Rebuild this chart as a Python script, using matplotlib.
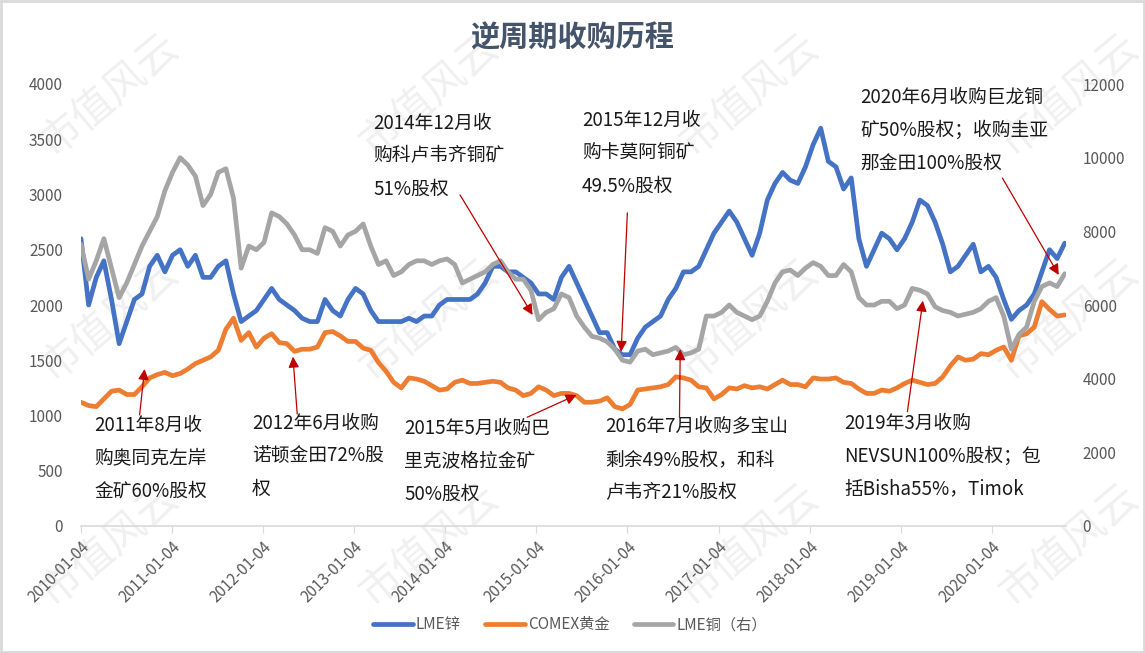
import pandas as pd
import matplotlib
matplotlib.use('Agg')
import matplotlib.pyplot as plt
import matplotlib.dates as mdates
from matplotlib.patches import Rectangle

plt.rcParams['font.family'] = ['Noto Sans CJK SC', 'DejaVu Sans']

# roughly one point a month, 2010-01-04 .. 2020-10-23
dates = pd.date_range('2010-01-04', '2020-10-23', periods=130)

zinc = [2600, 2000, 2250, 2400, 2050, 1650, 1850, 2050, 2100, 2350,
        2450, 2300, 2450, 2500, 2350, 2450, 2250, 2250, 2350, 2400,
        2100, 1850, 1900, 1950, 2050, 2150, 2050, 2000, 1950, 1880,
        1850, 1850, 2050, 1950, 1900, 2050, 2150, 2100, 1950, 1850,
        1850, 1850, 1850, 1880, 1850, 1900, 1900, 2000, 2050, 2050,
        2050, 2050, 2100, 2200, 2350, 2350, 2300, 2300, 2250, 2200,
        2100, 2100, 2050, 2250, 2350, 2200, 2050, 1900, 1750, 1750,
        1600, 1550, 1550, 1700, 1800, 1850, 1900, 2050, 2150, 2300,
        2300, 2350, 2500, 2650, 2750, 2850, 2750, 2600, 2450, 2650,
        2950, 3100, 3200, 3130, 3100, 3250, 3450, 3600, 3300, 3250,
        3050, 3150, 2600, 2350, 2500, 2650, 2600, 2500, 2600, 2750,
        2950, 2900, 2750, 2550, 2300, 2350, 2450, 2550, 2300, 2350,
        2250, 2050, 1870, 1950, 2000, 2100, 2300, 2500, 2420, 2560]

gold = [1120, 1090, 1080, 1150, 1220, 1230, 1190, 1190, 1260, 1340,
        1370, 1390, 1360, 1380, 1420, 1470, 1500, 1530, 1590, 1780,
        1880, 1680, 1750, 1620, 1700, 1740, 1660, 1650, 1580, 1600,
        1600, 1620, 1750, 1760, 1720, 1670, 1670, 1610, 1590, 1480,
        1400, 1300, 1250, 1340, 1330, 1310, 1270, 1230, 1240, 1300,
        1320, 1290, 1290, 1300, 1310, 1300, 1250, 1230, 1180, 1200,
        1260, 1230, 1180, 1200, 1200, 1180, 1120, 1120, 1130, 1160,
        1080, 1060, 1100, 1230, 1240, 1250, 1260, 1280, 1350, 1340,
        1320, 1260, 1250, 1150, 1190, 1250, 1240, 1270, 1250, 1260,
        1240, 1280, 1320, 1280, 1280, 1260, 1340, 1330, 1330, 1340,
        1300, 1290, 1240, 1200, 1200, 1230, 1220, 1250, 1290, 1320,
        1300, 1280, 1290, 1350, 1450, 1530, 1500, 1510, 1560, 1550,
        1590, 1620, 1500, 1720, 1740, 1800, 2030, 1960, 1900, 1910]

copper = [7650, 6700, 7200, 7800, 7000, 6200, 6600, 7100, 7600, 8000,
          8400, 9100, 9600, 10000, 9800, 9500, 8700, 9000, 9600, 9700,
          8900, 7000, 7600, 7500, 7700, 8500, 8400, 8200, 7900, 7500,
          7500, 7400, 8100, 8000, 7600, 7900, 8000, 8200, 7600, 7100,
          7200, 6800, 6900, 7100, 7200, 7200, 7100, 7200, 7250, 7100,
          6600, 6700, 6800, 6900, 7100, 7200, 6900, 6700, 6700, 6400,
          5600, 5800, 5900, 6300, 6200, 5700, 5400, 5150, 5100, 5000,
          4800, 4500, 4450, 4750, 4800, 4650, 4700, 4750, 4850, 4650,
          4700, 4800, 5700, 5700, 5800, 6000, 5800, 5700, 5600, 5700,
          6100, 6600, 6900, 6950, 6800, 7000, 7150, 7050, 6800, 6800,
          7100, 6900, 6200, 6000, 6000, 6100, 6100, 5900, 6000, 6450,
          6400, 6300, 5950, 5850, 5800, 5700, 5750, 5800, 5900, 6100,
          6200, 5700, 4800, 5200, 5400, 6100, 6500, 6600, 6500, 6850]

series_names = ['LME锌', 'COMEX黄金', 'LME铜（右）']
year_ticks = pd.date_range('2010-01-04', periods=11, freq=pd.DateOffset(years=1))

# text, arrow tip (date, left-axis value), arrow tail (date, left-axis value), text pos (px)
notes = [
    ('2011年8月收\n购奥同克左岸\n金矿60%股权', '2010-09-16', 1421, '2010-08-27', 1005, (94, 458)),
    ('2012年6月收购\n诺顿金田72%股\n权', '2012-05-03', 1532, '2012-05-20', 1014, (252, 456)),
    ('2015年5月收购巴\n里克波格拉金矿\n50%股权', '2015-06-14', 1186, '2014-11-28', 984, (404, 461)),
    ('2016年7月收购多宝山\n剩余49%股权，和科\n卢韦齐21%股权', '2016-08-03', 1599, '2016-07-31', 984, (605, 460)),
    ('2019年3月收购\nNEVSUN100%股权；包\n括Bisha55%，Timok', '2019-04-03', 2039, '2019-01-31', 1034, (844, 456)),
    ('2014年12月收\n购科卢韦齐铜矿\n51%股权', '2014-12-20', 1910, '2014-03-04', 2996, (373, 156)),
    ('2015年12月收\n购卡莫阿铜矿\n49.5%股权', '2015-12-10', 1577, '2016-01-04', 2833, (582, 153)),
    ('2020年6月收购巨龙铜\n矿50%股权；收购圭亚\n那金田100%股权', '2020-09-29', 2272, '2020-02-16', 3149, (860, 130)),
]

W, H = 1145, 653
fig = plt.figure(figsize=(W / 100, H / 100), dpi=100)
ax = fig.add_axes([81 / W, 1 - 526 / H, (1066 - 81) / W, (526 - 84) / H])
ax2 = ax.twinx()

# faint watermark, behind the axes
for wy in (95, 320, 545):
    for wx in (110, 430, 750, 1070):
        fig.text(wx / W, 1 - wy / H, '市值风云', fontsize=30, color='#F0F0F0',
                 rotation=40, ha='center', va='center', zorder=-5)

l1, = ax.plot(dates, zinc, color='#4472C4', lw=3.4, solid_capstyle='round')
l2, = ax.plot(dates, gold, color='#ED7D31', lw=3.4, solid_capstyle='round')
l3, = ax2.plot(dates, copper, color='#A5A5A5', lw=3.4, solid_capstyle='round')

ax.set_xlim(pd.Timestamp('2010-01-04'), pd.Timestamp('2020-10-28'))
ax.set_ylim(0, 4000)
ax2.set_ylim(0, 12000)
ax.set_yticks(range(0, 4001, 500))
ax2.set_yticks(range(0, 12001, 2000))
ax.set_xticks(year_ticks)
ax.xaxis.set_major_formatter(mdates.DateFormatter('%Y-%m-%d'))

for a in (ax, ax2):
    for s in a.spines.values():
        s.set_visible(False)
    a.patch.set_alpha(0)
ax.spines['bottom'].set_visible(True)
ax.spines['bottom'].set_color('#D9D9D9')
ax.spines['bottom'].set_linewidth(1.2)

ax.tick_params(axis='y', length=0, pad=13, labelsize=11, labelcolor='#595959')
ax2.tick_params(axis='y', length=0, pad=12, labelsize=11, labelcolor='#595959')
ax.tick_params(axis='x', length=5, color='#D9D9D9', pad=4, labelsize=11, labelcolor='#595959')
for lab in ax.get_xticklabels():
    lab.set_rotation(45)
    lab.set_ha('right')
    lab.set_va('top')
    lab.set_rotation_mode('anchor')

fig.text(572 / W, 1 - 37 / H, '逆周期收购历程', fontsize=21, fontweight='bold',
         color='#44546A', ha='center', va='center')

for text, tip_d, tip_v, tail_d, tail_v, (tx, ty) in notes:
    tip = (mdates.date2num(pd.Timestamp(tip_d)), tip_v)
    tail = (mdates.date2num(pd.Timestamp(tail_d)), tail_v)
    ax2.annotate('', xy=tip, xycoords=ax.transData, xytext=tail, textcoords=ax.transData,
                 arrowprops=dict(arrowstyle='-|>', color='#C00000', lw=0.9,
                                 mutation_scale=16, shrinkA=0, shrinkB=0))
    fig.text(tx / W, 1 - ty / H, text, fontsize=13.5, color='#1A1A1A',
             ha='left', va='center', linespacing=1.75)

fig.legend([l1, l2, l3], series_names, loc='center', bbox_to_anchor=(570 / W, 1 - 625 / H),
           ncol=3, frameon=False, fontsize=11, labelcolor='#595959',
           handlelength=2.6, handletextpad=0.2, columnspacing=1.6)

fig.patches.append(Rectangle((0.001, 0.001), 0.998, 0.997, transform=fig.transFigure,
                             fill=False, edgecolor='#D9D9D9', lw=2))

fig.savefig('out.png', dpi=100)
